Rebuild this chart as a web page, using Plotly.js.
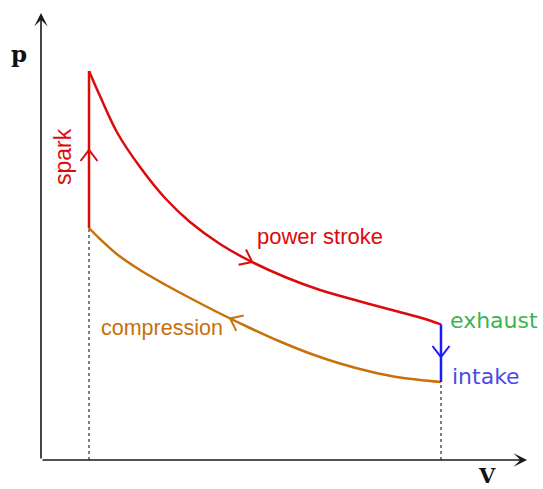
<!DOCTYPE html>
<html>
<head>
<meta charset="utf-8">
<script src="https://cdn.plot.ly/plotly-3.0.1.min.js"></script>
<style>html,body{margin:0;padding:0;background:#fff;}#chart{width:543px;height:489px;}</style>
</head>
<body>
<div id="chart"></div>
<script>
// Volume and pressure (arbitrary units)
var powerV = [1.0, 1.229, 1.604, 2.063, 2.583, 3.104, 3.729, 4.354, 5.083, 5.813, 6.542, 7.271, 7.896, 8.333];
var powerP = [19.45, 18.2, 16.3, 14.65, 13.1, 11.9, 10.8, 9.95, 9.15, 8.5, 8.0, 7.525, 7.125, 6.78];
var compV = [1.0, 1.229, 1.604, 2.063, 2.583, 3.104, 3.729, 4.354, 4.979, 5.604, 6.229, 6.854, 7.479, 8.333];
var compP = [11.6, 11.05, 10.25, 9.5, 8.775, 8.1, 7.325, 6.6, 5.925, 5.325, 4.825, 4.425, 4.125, 3.9];
var sparkV = [1.0, 1.0];
var sparkP = [11.6, 19.45];
var exhaustV = [8.333, 8.333];
var exhaustP = [6.78, 3.9];
var labels = ["spark", "power stroke", "compression", "exhaust", "intake"];
var axisLabels = ["p", "V"];

var W = 543, H = 489;
var margin = {l: 41, r: 16, t: 13, b: 29};
var xMax = 10.125, yMax = 22.35;
var kx = (W - margin.l - margin.r) / xMax;   // px per V unit
var ky = (H - margin.t - margin.b) / yMax;   // px per P unit
var red = "#dd0a0a", orange = "#c8700a", blue = "#1a1aff", gray = "#555555";

var traces = [
  {x: [sparkV[0], sparkV[0]], y: [0, sparkP[0]], mode: "lines", line: {color: gray, width: 1.5, dash: "dot"}},
  {x: [exhaustV[1], exhaustV[1]], y: [0, exhaustP[1]], mode: "lines", line: {color: gray, width: 1.5, dash: "dot"}},
  {x: compV, y: compP, mode: "lines", line: {color: orange, width: 2.5, shape: "spline"}},
  {x: powerV, y: powerP, mode: "lines", line: {color: red, width: 2.5, shape: "spline"}},
  {x: sparkV, y: sparkP, mode: "lines", line: {color: red, width: 2.5}},
  {x: exhaustV, y: exhaustP, mode: "lines", line: {color: blue, width: 2.5}}
];

function interp(xs, ys, v) {
  for (var i = 0; i < xs.length - 1; i++) {
    if (v >= xs[i] && v <= xs[i + 1]) {
      var t = (v - xs[i]) / (xs[i + 1] - xs[i]);
      return ys[i] + t * (ys[i + 1] - ys[i]);
    }
  }
  return ys[ys.length - 1];
}
// chevron (open "^" arrow) at a point on a path, pointing toward direction (dx,dy) in data units
function chevron(x, y, dx, dy, color) {
  var px = dx * kx, py = dy * ky;
  var len = Math.sqrt(px * px + py * py);
  var ux = px / len, uy = py / len;
  var nx = -uy, ny = ux;
  var depth = 11, half = 8.5;
  var x1 = x + (-ux * depth + nx * half) / kx, y1 = y + (-uy * depth + ny * half) / ky;
  var x2 = x + (-ux * depth - nx * half) / kx, y2 = y + (-uy * depth - ny * half) / ky;
  return {type: "path", xref: "x", yref: "y",
    path: "M" + x1 + "," + y1 + " L" + x + "," + y + " L" + x2 + "," + y2,
    line: {color: color, width: 2}};
}
var pv = 4.4, cv = 3.94;
var shapes = [
  chevron(sparkV[0], 15.5, 0, 1, red),
  chevron(pv, interp(powerV, powerP, pv), 0.2, interp(powerV, powerP, pv + 0.1) - interp(powerV, powerP, pv - 0.1), red),
  chevron(cv, interp(compV, compP, cv), -0.2, interp(compV, compP, cv - 0.1) - interp(compV, compP, cv + 0.1), orange),
  chevron(exhaustV[0], 5.15, 0, -1, blue)
];

function arrow(x, y, ax, ay, color) {
  return {x: x, y: y, ax: ax, ay: ay, xref: "x", yref: "y", axref: "x", ayref: "y",
    text: "", showarrow: true, arrowhead: 3, arrowsize: 1.4, arrowwidth: 1.6,
    arrowcolor: color, standoff: 0, startstandoff: 0};
}
function label(text, x, y, color, size, family, extra) {
  var a = {x: x, y: y, xref: "x", yref: "y", text: text, showarrow: false,
    xanchor: "left", yanchor: "middle", font: {color: color, size: size, family: family}};
  for (var k in extra) a[k] = extra[k];
  return a;
}
var sans = "Liberation Sans, Arial, sans-serif";
var sans2 = "DejaVu Sans, Verdana, sans-serif";
var serif = "DejaVu Serif, serif";

var annotations = [
  arrow(xMax, 0, 0, 0, "#1a1a1a"),
  arrow(0, yMax, 0, 0, "#1a1a1a"),
  label(labels[0], 0.46, 15.15, red, 23, sans, {xanchor: "center", textangle: -90}),
  label(labels[1], 4.46, 11.2, red, 22, sans),
  label(labels[2], 1.2, 6.6, orange, 21.5, sans),
  label(labels[3], 8.47, 6.98, "#3cb454", 22, sans2),
  label(labels[4], 8.52, 4.2, "#4b4bea", 22, sans2),
  {xref: "paper", yref: "paper", x: -0.0453, y: 0.9105, text: axisLabels[0], showarrow: false,
    xanchor: "center", yanchor: "middle", font: {color: "#111", size: 23, family: serif, weight: "bold"}},
  {xref: "paper", yref: "paper", x: 0.9177, y: -0.0336, text: axisLabels[1], showarrow: false,
    xanchor: "center", yanchor: "middle", font: {color: "#111", size: 21, family: serif, weight: "bold"}}
];

var axisCommon = {showgrid: false, zeroline: false, showline: false, showticklabels: false, ticks: "", fixedrange: true};
var layout = {
  width: W, height: H,
  margin: margin,
  paper_bgcolor: "#ffffff", plot_bgcolor: "#ffffff",
  showlegend: false,
  xaxis: Object.assign({range: [0, xMax]}, axisCommon),
  yaxis: Object.assign({range: [0, yMax]}, axisCommon),
  shapes: shapes,
  annotations: annotations
};
Plotly.newPlot("chart", traces, layout, {staticPlot: true, displayModeBar: false});
</script>
</body>
</html>
